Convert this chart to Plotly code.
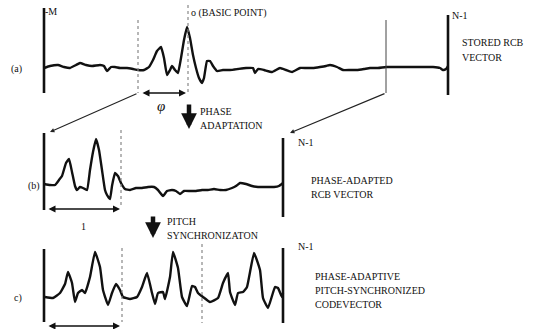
import plotly.graph_objects as go

W, H = 534, 329

# ---- waveforms (sample position, amplitude) ----
wave_a = [(44,68),(50,66),(58,65),(64,67),(70,68),(76,65),(80,63),(86,65),(92,66),(100,65),
          (104,66),(107,71),(111,67),(115,67),(120,68),(127,68),(133,69),(138,70),(144,70),(149,67),
          (153,60),(157,51),(161,47),(164,58),(167,75),(170,70),(172,66),(175,70),(178,73),(181,58),
          (184,40),(187,27),(190,38),(193,55),(196,68),(199,78),(202,83),(204,78),(207,61),(210,61),
          (213,66),(217,71),(223,70),(230,70),(238,69),(246,68),(253,68),(255,73),(258,69),(264,70),
          (272,72),(280,68),(286,70),(292,72),(300,68),(306,68),(313,68),(320,67),(326,66),(330,65),
          (337,67),(343,70),(350,70),(357,70),(364,69),(370,68),(378,68),(386,67),(393,67),(400,67),
          (410,67),(420,67),(433,67),(440,68),(443,70),(446,69),(448,66)]

wave_b = [(44,184),(50,185),(55,185),(59,180),(62,176),(66,163),(69,159),(72,172),(75,186),(77,190),
          (80,187),(83,188),(87,190),(90,170),(93,152),(96,139),(99,150),(102,170),(105,190),(107,195),
          (110,199),(112,186),(115,173),(118,176),(121,183),(125,189),(130,190),(136,188),(142,188),
          (148,187),(154,187),(158,190),(163,196),(167,191),(172,190),(176,191),(180,194),(184,191),
          (190,191),(196,191),(202,190),(208,190),(214,189),(220,190),(226,190),(232,188),(236,186),
          (240,183),(246,184),(252,186),(258,187),(266,187),(274,187),(279,186),(283,183)]

wave_c = [(45,297),(53,298),(60,293),(65,284),(68,272),(72,283),(75,302),(78,293),(82,290),(85,293),
          (90,277),(95,252),(100,267),(103,290),(108,305),(112,293),(116,284),(120,290),(123,297),
          (130,299),(137,297),(142,287),(147,273),(152,293),(155,304),(158,293),(163,292),(165,299),
          (170,277),(173,252),(178,268),(182,297),(187,306),(192,286),(195,287),(198,293),(203,297),
          (210,302),(218,298),(223,283),(228,273),(230,292),(235,305),(238,293),(243,292),(247,287),
          (254,253),(260,270),(263,298),(268,308),(275,287),(278,288),(282,297),(283,293)]

# ---- frame lines ----
solid_bars = [(44,8,93),(448,15,95),(44,133,210),(283,138,217),(44,249,322),(283,248,323)]
dashed_bars = [(138,20,93),(188,5,93),(121,130,206),(122,248,322),(202,244,323)]
thin_bars = [(386,20,93)]

# ---- texts ----
labels = [
    ("-M", 43, 11, "left"),
    ("o (BASIC POINT)", 189, 13, "left"),
    ("N-1", 450, 15, "left"),
    ("STORED RCB", 460, 42, "left"),
    ("VECTOR", 460, 57, "left"),
    ("(a)", 24, 69, "right"),
    ("PHASE", 198, 111, "left"),
    ("ADAPTATION", 198, 125, "left"),
    ("N-1", 296, 142, "left"),
    ("PHASE-ADAPTED", 309, 180, "left"),
    ("RCB VECTOR", 309, 194, "left"),
    ("(b)", 42, 186, "right"),
    ("1", 79, 226, "left"),
    ("PITCH", 165, 221, "left"),
    ("SYNCHRONIZATON", 165, 235, "left"),
    ("N-1", 296, 246, "left"),
    ("PHASE-ADAPTIVE", 313, 276, "left"),
    ("PITCH-SYNCHRONIZED", 313, 290, "left"),
    ("CODEVECTOR", 313, 304, "left"),
    ("c)", 24, 298, "right"),
]

SERIF = "Liberation Serif"

fig = go.Figure()
for wave in (wave_a, wave_b, wave_c):
    fig.add_trace(go.Scatter(x=[p[0] for p in wave], y=[p[1] for p in wave], mode="lines",
                             line=dict(color="#111", width=2.4, shape="spline", smoothing=0.35),
                             hoverinfo="skip", showlegend=False))

shapes = []
for x, y0, y1 in solid_bars:
    shapes.append(dict(type="line", x0=x, x1=x, y0=y0, y1=y1, xref="x", yref="y",
                       line=dict(color="#111", width=2.6)))
for x, y0, y1 in dashed_bars:
    shapes.append(dict(type="line", x0=x, x1=x, y0=y0, y1=y1, xref="x", yref="y",
                       line=dict(color="#888", width=1.2, dash="dot")))
for x, y0, y1 in thin_bars:
    shapes.append(dict(type="line", x0=x, x1=x, y0=y0, y1=y1, xref="x", yref="y",
                       line=dict(color="#444", width=1)))
fig.update_layout(shapes=shapes)

ann = []
for t, x, y, al in labels:
    ann.append(dict(text=t, x=x, y=y, xref="x", yref="y", showarrow=False, xanchor=al,
                    yanchor="middle", font=dict(family=SERIF, size=10, color="#111")))
ann.append(dict(text="<i>φ</i>", x=161, y=106, xref="x", yref="y", showarrow=False,
                font=dict(family=SERIF, size=15, color="#111")))

# double-headed spans
spans = [(141,186,93),(47,120,209),(47,120,326)]
for x0, x1, y in spans:
    ann.append(dict(x=x1, y=y, ax=x0, ay=y, xref="x", yref="y", axref="x", ayref="y",
                    text="", showarrow=True, arrowhead=2, arrowside="end+start",
                    arrowsize=1, arrowwidth=1.4, arrowcolor="#111"))
# slanted mapping lines
slants = [(138,93,50,132),(386,93,290,133)]
for x0, y0, x1, y1 in slants:
    ann.append(dict(x=x1, y=y1, ax=x0, ay=y0, xref="x", yref="y", axref="x", ayref="y",
                    text="", showarrow=True, arrowhead=2, arrowsize=0.8,
                    arrowwidth=1.1, arrowcolor="#222"))
# thick downward process arrows
downs = [(189,103,129),(153,215,238)]
for x, y0, y1 in downs:
    ann.append(dict(x=x, y=y1, ax=x, ay=y0, xref="x", yref="y", axref="x", ayref="y",
                    text="", showarrow=True, arrowhead=2, arrowsize=0.7,
                    arrowwidth=4.5, arrowcolor="#111"))

fig.update_layout(annotations=ann, width=W, height=H,
                  margin=dict(l=0, r=0, t=0, b=0),
                  paper_bgcolor="white", plot_bgcolor="white",
                  xaxis=dict(range=[0, W], visible=False, fixedrange=True),
                  yaxis=dict(range=[H, 0], visible=False, fixedrange=True))

fig.write_html("out.html", config={"displayModeBar": False},
               post_script="document.body.style.margin='0';document.body.style.overflow='hidden';")
